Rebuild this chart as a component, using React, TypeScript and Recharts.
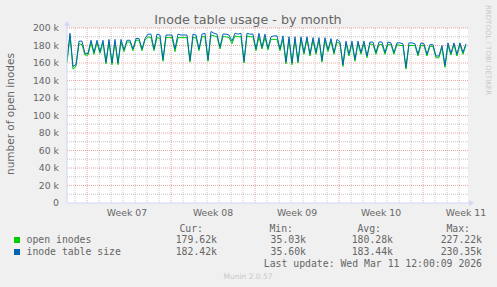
import React from "react";
import { LineChart, Line, XAxis, YAxis, CartesianGrid, ReferenceLine, ReferenceDot } from "recharts";

// values in thousands, one sample every 6 hours from the start of the window
const openInodes = [
  160, 191, 153, 156, 182, 181, 169, 169, 183, 170, 183, 171, 183, 159, 184, 158, 184, 158, 184, 173,
  184, 184, 174, 186, 186, 174, 186, 190, 189, 174, 189, 188, 162, 189, 189, 189, 173, 189, 189, 189,
  189, 161, 189, 189, 174, 190, 190, 162, 192, 191, 190, 176, 190, 190, 189, 182, 191, 190, 190, 160,
  191, 190, 190, 174, 190, 176, 189, 175, 187, 187, 187, 174, 187, 159, 187, 158, 187, 160, 187, 170,
  187, 168, 186, 170, 186, 161, 186, 173, 185, 170, 184, 182, 156, 182, 168, 182, 162, 182, 170, 182,
  166, 182, 181, 170, 181, 181, 170, 181, 181, 170, 181, 180, 180, 153, 180, 180, 180, 168, 180, 180,
  168, 179, 179, 166, 166, 178, 155, 180, 169, 181, 168, 181, 170, 180,
];
const tableSize = [
  163, 194, 156, 158, 185, 185, 171, 171, 186, 172, 186, 173, 186, 161, 187, 160, 187, 160, 187, 175,
  186, 186, 176, 188, 188, 176, 188, 193, 193, 176, 193, 192, 164, 192, 192, 192, 176, 193, 192, 192,
  192, 163, 193, 192, 176, 193, 194, 164, 196, 194, 193, 178, 193, 193, 192, 185, 194, 193, 194, 162,
  194, 193, 193, 176, 194, 178, 193, 177, 190, 191, 191, 176, 191, 161, 190, 160, 190, 162, 190, 172,
  190, 170, 189, 172, 189, 163, 189, 175, 188, 172, 187, 184, 158, 185, 170, 185, 164, 185, 172, 185,
  168, 184, 184, 172, 184, 184, 172, 184, 183, 172, 183, 183, 182, 155, 183, 183, 182, 170, 183, 182,
  170, 181, 181, 168, 168, 180, 157, 183, 171, 183, 170, 183, 172, 182,
];
const STEP_DAYS = 0.25;
const X_MAX = 33.42;

const weekLabels = ["Week 07", "Week 08", "Week 09", "Week 10", "Week 11"];
const weekLabelDays = [5.0, 12.17, 19.17, 26.17, 33.25];
const weekStartDays = [1.67, 8.67, 15.67, 22.67, 29.67];
const dayLineDays = Array.from({ length: 33 }, (_, k) => 0.67 + k).filter(
  (d) => !weekStartDays.some((w) => Math.abs(w - d) < 0.01)
);
const yTicks = [0, 20000, 40000, 60000, 80000, 100000, 120000, 140000, 160000, 180000, 200000];
const yMinorTicks = [10000, 30000, 50000, 70000, 90000, 110000, 130000, 150000, 170000, 190000];

const seriesNames = ["open inodes", "inode table size"];
const seriesColors = ["#00CC00", "#0066B3"];
const statHeaders = ["Cur:", "Min:", "Avg:", "Max:"];
const openStats = ["179.62k", "35.03k", "180.28k", "227.22k"];
const sizeStats = ["182.42k", "35.60k", "183.44k", "230.35k"];
const lastUpdate = "Last update: Wed Mar 11 12:00:09 2026";

const data = tableSize.map((v, i) => ({ t: i * STEP_DAYS, open: openInodes[i] * 1000, size: v * 1000 }));

const FONT = "#666666";
const AXIS = "#CFD6F8";
const MINOR = "rgba(143,143,143,0.5)";
const MAJOR = "rgba(222,79,79,0.5)";

const headerEnds = [203, 293, 381, 470];
const valueEnds = [217, 306, 393, 482];

export default function App() {
  return (
    <div style={{ position: "absolute", left: 0, top: 0, width: 497, height: 287, background: "#F0F0F0", overflow: "hidden" }}>
      <LineChart width={497} height={287} data={data} margin={{ top: 28, right: 29, bottom: 68, left: 7 }}>
        <CartesianGrid horizontal={false} vertical={false} fill="#ffffff" stroke="none" />
        <XAxis
          dataKey="t"
          type="number"
          domain={[0, X_MAX]}
          ticks={weekLabelDays}
          tickFormatter={(v) => weekLabels[weekLabelDays.indexOf(v)] ?? ""}
          tickLine={false}
          tickSize={3}
          tickMargin={3}
          height={16}
          axisLine={{ stroke: AXIS }}
          tick={{ fill: FONT, fontSize: 9.3, fontFamily: "DejaVu Sans" }}
          interval={0}
          allowDataOverflow
        />
        <YAxis
          type="number"
          domain={[0, 200000]}
          ticks={yTicks}
          tickFormatter={(v) => (v === 0 ? "0" : `${v / 1000} k`)}
          tickLine={false}
          tickSize={4}
          tickMargin={4}
          width={60}
          axisLine={{ stroke: AXIS }}
          tick={{ fill: FONT, fontSize: 9.3, fontFamily: "DejaVu Sans" }}
          interval={0}
        />
        {yMinorTicks.map((y) => (
          <ReferenceLine key={"hm" + y} y={y} stroke={MINOR} strokeDasharray="1 1" />
        ))}
        {dayLineDays.map((d) => (
          <ReferenceLine key={"vm" + d} x={d} stroke={MINOR} strokeDasharray="1 1" />
        ))}
        {yTicks.filter((y) => y > 0).map((y) => (
          <ReferenceLine key={"hM" + y} y={y} stroke={MAJOR} strokeDasharray="1 1" />
        ))}
        {weekStartDays.map((d) => (
          <ReferenceLine key={"vM" + d} x={d} stroke={MAJOR} strokeDasharray="1 1" />
        ))}
        <Line type="linear" dataKey="open" stroke={seriesColors[0]} strokeWidth={1} dot={false} isAnimationActive={false} />
        <Line type="linear" dataKey="size" stroke={seriesColors[1]} strokeWidth={1} dot={false} isAnimationActive={false} />
        <ReferenceDot
          x={0}
          y={200000}
          ifOverflow="visible"
          shape={(p: any) => (
            <g>
              <line x1={p.cx} y1={p.cy} x2={p.cx} y2={p.cy - 2} stroke={AXIS} />
              <polygon points={`${p.cx - 3},${p.cy - 2} ${p.cx + 3},${p.cy - 2} ${p.cx},${p.cy - 7}`} fill={AXIS} />
            </g>
          )}
        />
        <ReferenceDot
          x={X_MAX}
          y={0}
          ifOverflow="visible"
          shape={(p: any) => (
            <g>
              <line x1={p.cx} y1={p.cy} x2={p.cx + 1} y2={p.cy} stroke={AXIS} />
              <polygon points={`${p.cx + 1},${p.cy - 3} ${p.cx + 1},${p.cy + 3} ${p.cx + 6},${p.cy}`} fill={AXIS} />
            </g>
          )}
        />
      </LineChart>
      <svg width={497} height={287} style={{ position: "absolute", left: 0, top: 0, pointerEvents: "none" }}>
        <text x={248} y={24} textAnchor="middle" fontFamily="DejaVu Sans" fontSize={12.7} fill={FONT}>
          Inode table usage - by month
        </text>
        <text transform="translate(13.5,114) rotate(-90)" textAnchor="middle" fontFamily="DejaVu Sans" fontSize={10.5} fill={FONT}>
          number of open inodes
        </text>
        <text transform="translate(486,5) rotate(90)" textAnchor="start" fontFamily="DejaVu Sans" fontSize={7} fill="#C8C8C8">
          RRDTOOL / TOBI OETIKER
        </text>
        <g fontFamily="DejaVu Sans Mono" fontSize={9.8} fill={FONT}>
          {statHeaders.map((h, i) => (
            <text key={h} x={headerEnds[i]} y={232} textAnchor="end">{h}</text>
          ))}
          {[openStats, sizeStats].map((row, r) => (
            <g key={r}>
              <rect x={14} y={237 + r * 12} width={6} height={6} fill={seriesColors[r]} />
              <text x={26.5} y={243 + r * 12}>{seriesNames[r]}</text>
              {row.map((v, i) => (
                <text key={i} x={valueEnds[i]} y={243 + r * 12} textAnchor="end">{v}</text>
              ))}
            </g>
          ))}
          <text x={482} y={267} textAnchor="end">{lastUpdate}</text>
        </g>
        <text x={248} y={279} textAnchor="middle" fontFamily="DejaVu Sans" fontSize={7.5} fill="#C8C8C8">
          Munin 2.0.57
        </text>
      </svg>
    </div>
  );
}
